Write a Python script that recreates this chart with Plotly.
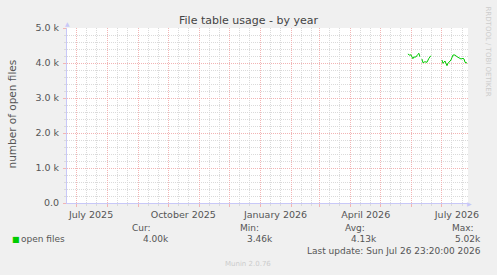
import plotly.graph_objects as go

# ---- data ----
dates = [
    "2026-05-28", "2026-05-30", "2026-05-31", "2026-06-02", "2026-06-03",
    "2026-06-05", "2026-06-07", "2026-06-08", "2026-06-09", "2026-06-10",
    "2026-06-11", "2026-06-12", "2026-06-14", "2026-06-16", "2026-06-18",
    "2026-06-20", "2026-06-25",
    "2026-07-01", "2026-07-02", "2026-07-04", "2026-07-06", "2026-07-07",
    "2026-07-10", "2026-07-12", "2026-07-14", "2026-07-16", "2026-07-18",
    "2026-07-20", "2026-07-22", "2026-07-23", "2026-07-24", "2026-07-26",
]
open_files = [
    4257, 4220, 4237, 4123, 4171,
    4171, 4249, 4277, 4180, None,
    4114, 4009, 4037, 4020, 4134,
    4209, None,
    4086, 3991, 4057, 3923, 3991,
    4086, 4229, 4229, 4180, 4134,
    4114, 4134, 4114, 4020, 4000,
]

x_range = ["2025-06-21 23:20", "2026-07-26 23:20"]
month_ticks = ["2025-07-01", "2025-08-01", "2025-09-01", "2025-10-01", "2025-11-01",
               "2025-12-01", "2026-01-01", "2026-02-01", "2026-03-01", "2026-04-01",
               "2026-05-01", "2026-06-01", "2026-07-01"]
month_labels = ["July 2025", "", "", "October 2025", "", "", "January 2026", "", "",
                "April 2026", "", "", "July 2026"]
minor_x_ticks = []
for ym in ["2025-07", "2025-08", "2025-09", "2025-10", "2025-11", "2025-12",
           "2026-01", "2026-02", "2026-03", "2026-04", "2026-05", "2026-06", "2026-07"]:
    minor_x_ticks += [ym + "-11", ym + "-21"]

y_ticks = [0, 1000, 2000, 3000, 4000, 5000]
y_labels = ["0.0", "1.0 k", "2.0 k", "3.0 k", "4.0 k", "5.0 k"]

title = "File table usage - by year"
y_title = "number of open files"
series_name = "open files"
stat_names = ["Cur:", "Min:", "Avg:", "Max:"]
stat_values = ["4.00k", "3.46k", "4.13k", "5.02k"]
last_update = "Last update: Sun Jul 26 23:20:00 2026"
footer = "Munin 2.0.76"
side_text = "RRDTOOL / TOBI OETIKER"

# ---- layout helpers ----
W, H = 497, 275
L, R, T, B = 67, 468, 28, 203
FONT = "DejaVu Sans"
TXT = "#555555"
MGRID = "#F2B4B4"
GRID = "#DADADA"
AXIS = "#C8C8F8"


def px(x):
    return (x - L) / (R - L)


def py(y):
    return (B - y) / (B - T)


fig = go.Figure()
fig.add_trace(go.Scatter(
    x=dates, y=open_files, mode="lines", name=series_name,
    line=dict(color="#00CC00", width=1), connectgaps=False,
    hoverinfo="skip", showlegend=False,
))

fig.update_layout(
    width=W, height=H,
    paper_bgcolor="#F0F0F0", plot_bgcolor="#FFFFFF",
    margin=dict(l=L, r=W - R, t=T, b=H - B, pad=0),
    showlegend=False,
    font=dict(family=FONT, color=TXT, size=9),
)

fig.update_xaxes(
    type="date", range=x_range, autorange=False,
    tickmode="array", tickvals=month_ticks, ticktext=month_labels,
    ticklabelshift=15, tickangle=0,
    tickfont=dict(family=FONT, size=9.5, color=TXT),
    showgrid=True, gridcolor=MGRID, griddash="1px,1px", gridwidth=1,
    ticks="outside", ticklen=3, tickcolor=MGRID, tickwidth=1,
    showline=True, linecolor=AXIS, linewidth=1,
    zeroline=False, fixedrange=True,
    minor=dict(tickmode="array", tickvals=minor_x_ticks, showgrid=True,
               gridcolor=GRID, griddash="1px,1px", gridwidth=1,
               ticks="outside", ticklen=2, tickcolor=GRID),
)

fig.update_yaxes(
    range=[0, 5000], autorange=False,
    tickmode="array", tickvals=y_ticks, ticktext=y_labels,
    tickfont=dict(family=FONT, size=9.5, color=TXT),
    showgrid=True, gridcolor=MGRID, griddash="1px,1px", gridwidth=1,
    ticks="outside", ticklen=3, tickcolor=MGRID, tickwidth=1,
    ticklabelstandoff=2,
    showline=True, linecolor=AXIS, linewidth=1,
    zeroline=False, fixedrange=True,
    minor=dict(dtick=200, showgrid=True, gridcolor=GRID, griddash="1px,1px",
               gridwidth=1, ticks="outside", ticklen=2, tickcolor=GRID),
)

ann = []
# title
ann.append(dict(text=title, x=px(248), y=py(21), xref="paper", yref="paper",
                xanchor="center", yanchor="middle", showarrow=False,
                font=dict(family=FONT, size=11, color="#444444")))
# y-axis title
ann.append(dict(text=y_title, x=px(11), y=py(114.5), xref="paper", yref="paper",
                xanchor="center", yanchor="middle", textangle=-90, showarrow=False,
                font=dict(family=FONT, size=10.5, color=TXT)))
# axis arrows
ann.append(dict(text="▲", x=px(67), y=py(24), xref="paper", yref="paper",
                xanchor="center", yanchor="middle", showarrow=False,
                font=dict(family=FONT, size=6, color=AXIS)))
ann.append(dict(text="▶", x=px(470), y=py(203), xref="paper", yref="paper",
                xanchor="center", yanchor="middle", showarrow=False,
                font=dict(family=FONT, size=6, color=AXIS)))
# side text
ann.append(dict(text=side_text, x=px(487.5), y=py(51), xref="paper", yref="paper",
                xanchor="center", yanchor="middle", textangle=90, showarrow=False,
                font=dict(family=FONT, size=7, color="#CCCCCC")))
# legend
ann.append(dict(text="■", x=px(16.5), y=py(239.5), xref="paper", yref="paper",
                xanchor="center", yanchor="middle", showarrow=False,
                font=dict(family=FONT, size=8, color="#00CC00")))
ann.append(dict(text=series_name, x=px(18.5), y=py(239), xref="paper", yref="paper",
                xanchor="left", yanchor="middle", showarrow=False,
                font=dict(family=FONT, size=9, color=TXT)))
head_right = [153, 261, 367, 476]
val_right = [171, 275, 379, 483]
for name, hx in zip(stat_names, head_right):
    ann.append(dict(text=name, x=px(hx), y=py(227.5), xref="paper", yref="paper",
                    xanchor="right", yanchor="middle", showarrow=False,
                    font=dict(family=FONT, size=9, color=TXT)))
for val, vx in zip(stat_values, val_right):
    ann.append(dict(text=val, x=px(vx), y=py(239), xref="paper", yref="paper",
                    xanchor="right", yanchor="middle", showarrow=False,
                    font=dict(family=FONT, size=9, color=TXT)))
ann.append(dict(text=last_update, x=px(483), y=py(250.5), xref="paper", yref="paper",
                xanchor="right", yanchor="middle", showarrow=False,
                font=dict(family=FONT, size=9, color=TXT)))
ann.append(dict(text=footer, x=px(248), y=py(263.5), xref="paper", yref="paper",
                xanchor="center", yanchor="middle", showarrow=False,
                font=dict(family=FONT, size=7, color="#CCCCCC")))
fig.update_layout(annotations=ann)

fig.write_html("out.html")
